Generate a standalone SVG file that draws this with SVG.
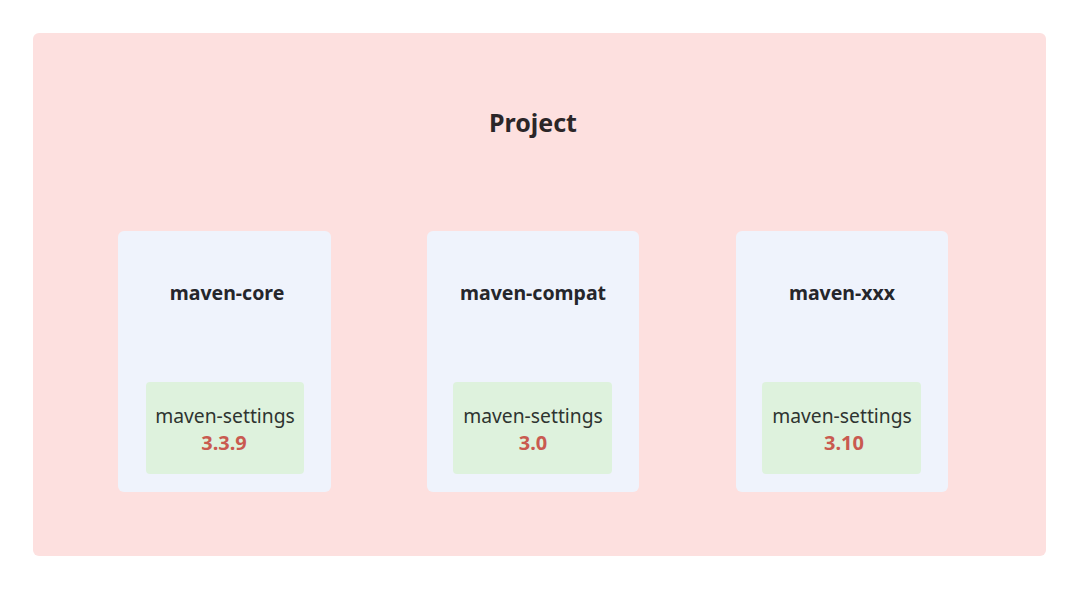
<svg xmlns="http://www.w3.org/2000/svg" width="1080" height="590" viewBox="0 0 1080 590">
<style>
.t{font-family:"Noto Sans","Open Sans","DejaVu Sans",sans-serif;text-anchor:middle}
.title{font-size:25px;font-weight:bold;fill:#2b2628}
.mod{font-size:19.5px;font-weight:bold;fill:#25262b}
.lib{font-size:19.3px;fill:#2e3430}
.ver{font-size:20px;font-weight:bold;fill:#c95a50}
.outer{fill:#fde0df}
.card{fill:#eff3fc}
.inner{fill:#def2dd}
</style>
<rect width="1080" height="590" fill="#ffffff"/>
<g id="project">
<rect class="outer" x="33" y="33" width="1013" height="523" rx="6"/>
<text class="t title" x="533" y="132">Project</text>
</g>
<g id="maven-core">
<rect class="card" x="118" y="231" width="213" height="261" rx="6"/>
<text class="t mod" x="227" y="300">maven-core</text>
<g id="settings-core">
<rect class="inner" x="146" y="382" width="158" height="92" rx="4"/>
<text class="t lib" x="225" y="423">maven-settings</text>
<text class="t ver" x="224" y="450">3.3.9</text>
</g>
</g>
<g id="maven-compat">
<rect class="card" x="427" y="231" width="212" height="261" rx="6"/>
<text class="t mod" x="533" y="300">maven-compat</text>
<g id="settings-compat">
<rect class="inner" x="453" y="382" width="159" height="92" rx="4"/>
<text class="t lib" x="533" y="423">maven-settings</text>
<text class="t ver" x="533" y="450">3.0</text>
</g>
</g>
<g id="maven-xxx">
<rect class="card" x="736" y="231" width="212" height="261" rx="6"/>
<text class="t mod" x="842" y="300">maven-xxx</text>
<g id="settings-xxx">
<rect class="inner" x="762" y="382" width="159" height="92" rx="4"/>
<text class="t lib" x="842" y="423">maven-settings</text>
<text class="t ver" x="844" y="450">3.10</text>
</g>
</g>
<g id="connectors"></g>
</svg>
